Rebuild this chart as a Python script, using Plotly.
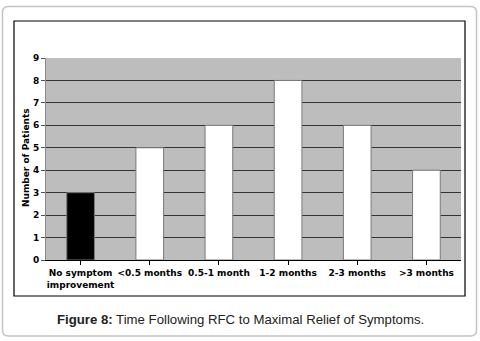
import plotly.graph_objects as go

categories = ["No symptom<br>improvement", "<0.5 months", "0.5-1 month", "1-2 months", "2-3 months", ">3 months"]
values = [3, 5, 6, 8, 6, 4]
bar_colors = ["#000000", "#ffffff", "#ffffff", "#ffffff", "#ffffff", "#ffffff"]
y_ticks = list(range(0, 10))

W, H = 480, 341
L, R, T, B = 46, 461, 58, 260

def px(x):
    return (x - L) / (R - L)

def py(y):
    return (B - y) / (B - T)

fig = go.Figure()
fig.add_trace(go.Bar(
    x=list(range(len(categories))), y=values,
    marker=dict(color=bar_colors, line=dict(color="#7a7a7a", width=1)),
    width=0.4,
))

def rounded_rect(x0, y0, x1, y1, r):
    def P(x, y):
        return f"{px(x):.5f},{py(y):.5f}"
    d = (f"M {P(x0 + r, y0)} L {P(x1 - r, y0)} Q {P(x1, y0)} {P(x1, y0 + r)} "
         f"L {P(x1, y1 - r)} Q {P(x1, y1)} {P(x1 - r, y1)} "
         f"L {P(x0 + r, y1)} Q {P(x0, y1)} {P(x0, y1 - r)} "
         f"L {P(x0, y0 + r)} Q {P(x0, y0)} {P(x0 + r, y0)} Z")
    return d

shapes = [
    dict(type="path", xref="paper", yref="paper", path=rounded_rect(2.5, 6.5, 476.5, 336, 6),
         line=dict(color="#c4c4c4", width=1.5), layer="below"),
    dict(type="rect", xref="paper", yref="paper", x0=px(14), x1=px(465), y0=py(21), y1=py(296),
         line=dict(color="#000000", width=1.2), layer="below"),
]

fig.update_layout(
    width=W, height=H,
    margin=dict(l=L, r=W - R, t=T, b=H - B),
    paper_bgcolor="white",
    plot_bgcolor="#bdbdbd",
    showlegend=False,
    shapes=shapes,
    xaxis=dict(
        tickmode="array", tickvals=list(range(len(categories))), ticktext=categories,
        range=[-0.5, len(categories) - 0.5],
        showgrid=False, zeroline=False,
        showline=True, linecolor="#000000", linewidth=1,
        ticks="outside", ticklen=4, tickcolor="#000000",
        tickfont=dict(family="DejaVu Sans", size=9, color="#000000", weight="bold"),
    ),
    yaxis=dict(
        range=[0, 9], tickvals=y_ticks,
        showgrid=True, gridcolor="#333333", gridwidth=1,
        zeroline=False,
        showline=True, linecolor="#8a8a8a", linewidth=1,
        ticks="outside", ticklen=4, tickcolor="#555555",
        tickfont=dict(family="DejaVu Sans", size=9, color="#000000", weight="bold"),
    ),
    annotations=[
        dict(text="Number of Patients", xref="paper", yref="paper", x=px(26), y=py(158),
             xanchor="center", yanchor="middle",
             showarrow=False, textangle=-90,
             font=dict(family="DejaVu Sans", size=9, color="#000000", weight="bold")),
        dict(text="<b>Figure 8:</b> Time Following RFC to Maximal Relief of Symptoms.",
             xref="paper", yref="paper", x=px(240), y=py(319), showarrow=False,
             xanchor="center", yanchor="middle",
             font=dict(family="Liberation Sans", size=13.2, color="#222222")),
    ],
)

fig.write_html("out.html")
